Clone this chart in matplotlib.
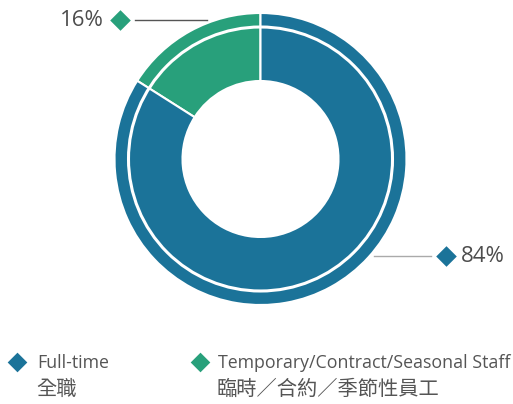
import matplotlib.pyplot as plt
from matplotlib.patches import Circle

plt.rcParams['font.family'] = ['Open Sans', 'Noto Sans CJK TC', 'DejaVu Sans']

labels_en = ["Full-time", "Temporary/Contract/Seasonal Staff"]
labels_zh = ["全職", "臨時／合約／季節性員工"]
shares = [84, 16]
colors = ["#1b7399", "#28a07b"]
text_gray = "#555555"

W, H = 513, 404
fig = plt.figure(figsize=(W / 100, H / 100), dpi=100)
ax = fig.add_axes([0, 0, 1, 1])

cx, cy = 260.5, H - 159
r_out, r_in = 146, 78

# green first, going counterclockwise from the top
ax.pie(shares[::-1], colors=colors[::-1], startangle=90, counterclock=True,
       radius=r_out, center=(cx, cy), frame=True,
       wedgeprops=dict(width=r_out - r_in, edgecolor='white', linewidth=1.5))
ax.add_patch(Circle((cx, cy), 132, fill=False, edgecolor='white', linewidth=2.2))
ax.set_xlim(0, W)
ax.set_ylim(0, H)
ax.set_aspect('equal')
ax.axis('off')

# callouts
ax.plot([135, 207], [H - 20, H - 20], color="#555555", lw=1)
ax.scatter([120], [H - 20], marker='D', s=110, color=colors[1], linewidths=0)
ax.text(104, H - 20, f"{shares[1]}%", ha='right', va='center', fontsize=16,
        color="#4d4d4d")

ax.plot([374, 431], [H - 255.5, H - 255.5], color="#aaaaaa", lw=1)
ax.scatter([446], [H - 256], marker='D', s=110, color=colors[0], linewidths=0)
ax.text(461, H - 256, f"{shares[0]}%", ha='left', va='center', fontsize=16,
        color="#4d4d4d")

# legend
for x_mark, x_text, en, zh, c in zip([17, 200], [37, 218], labels_en, labels_zh, colors):
    ax.scatter([x_mark], [H - 362], marker='D', s=100, color=c, linewidths=0)
    ax.text(x_text, H - 363, en, ha='left', va='center', fontsize=12.8, color=text_gray)
    ax.text(x_text - 1, H - 389, zh, ha='left', va='center', fontsize=14.6, color=text_gray,
            family=['Noto Sans CJK TC', 'DejaVu Sans'], fontweight='light')

fig.savefig("out.png", dpi=100)
